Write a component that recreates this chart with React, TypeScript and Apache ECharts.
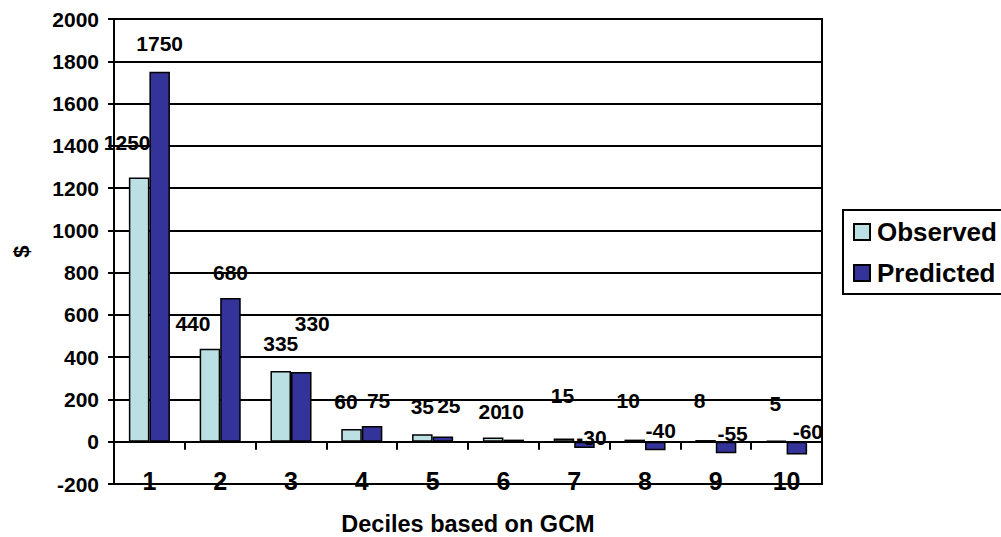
import React, { useEffect, useRef } from "react";
import * as echarts from "echarts";

const categories = ["1", "2", "3", "4", "5", "6", "7", "8", "9", "10"];
const observed = [1250, 440, 335, 60, 35, 20, 15, 10, 8, 5];
const predicted = [1750, 680, 330, 75, 25, 10, -30, -40, -55, -60];

// label nudges (style only, not data)
const obsLabelOffsets = [
  [-12, -20], [-17, -9.5], [0, -11.5], [-5.5, -12.5], [0, -12],
  [-3, -11], [-1.5, -27.5], [-6.5, -23.5], [-6, -24], [-1, -21.5],
];
const predLabelOffsets = [
  [0, -12.5], [0, -10.5], [11, -32.5], [6.5, -9.5], [6, -15],
  [-1.5, -12.5], [7, 11], [5.5, 4.5], [6.5, 7.5], [11, 5.5],
];

const FONT = "Arial, 'Liberation Sans', sans-serif";

export default function App() {
  const ref = useRef<HTMLDivElement>(null);
  useEffect(() => {
    if (!ref.current) return;
    const chart = echarts.init(ref.current, undefined, { renderer: "svg" });
    const labelBase = {
      show: true,
      position: "top",
      distance: 5,
      fontSize: 21,
      fontWeight: "bold",
      color: "#000",
      fontFamily: FONT,
    };
    chart.setOption({
      animation: false,
      backgroundColor: "#fff",
      textStyle: { fontFamily: FONT },
      grid: {
        left: 114,
        top: 19,
        right: 179,
        bottom: 53,
        containLabel: false,
        outerBoundsMode: "none",
        show: true,
        borderColor: "#000",
        borderWidth: 2,
        backgroundColor: "transparent",
      },
      legend: {
        orient: "vertical",
        left: 843,
        top: 210,
        padding: [9, 10, 8, 10],
        itemGap: 15,
        itemWidth: 16,
        itemHeight: 16,
        borderColor: "#000",
        borderWidth: 2,
        icon: "rect",
        textStyle: {
          fontSize: 26,
          fontWeight: "bold",
          color: "#000",
          fontFamily: FONT,
          lineHeight: 26,
          padding: [0, 0, 0, 2],
        },
        data: ["Observed", "Predicted"],
      },
      xAxis: {
        type: "category",
        data: categories,
        name: "Deciles based on GCM",
        nameLocation: "middle",
        nameGap: 28,
        nameTextStyle: {
          fontSize: 23.5,
          fontWeight: "bold",
          color: "#000",
          fontFamily: FONT,
        },
        axisLine: { onZero: true, lineStyle: { color: "#000", width: 2 } },
        axisTick: { show: true, length: 8, lineStyle: { color: "#000", width: 2 } },
        axisLabel: {
          margin: -16,
          fontSize: 25,
          fontWeight: "bold",
          color: "#000",
          fontFamily: FONT,
        },
        splitLine: { show: false },
      },
      yAxis: {
        type: "value",
        min: -200,
        max: 2000,
        interval: 200,
        name: "$",
        nameLocation: "middle",
        nameGap: 82,
        nameTextStyle: {
          fontSize: 22,
          fontWeight: "bold",
          color: "#000",
          fontFamily: FONT,
        },
        axisLine: { show: true, lineStyle: { color: "#000", width: 2 } },
        axisTick: { show: true, length: 6, lineStyle: { color: "#000", width: 2 } },
        axisLabel: {
          margin: 15,
          fontSize: 21,
          fontWeight: "bold",
          color: "#000",
          fontFamily: FONT,
          formatter: (v: number) => String(v),
        },
        splitLine: { show: true, lineStyle: { color: "#000", width: 2 } },
      },
      series: [
        {
          name: "Observed",
          type: "bar",
          barWidth: "29%",
          barGap: "0%",
          itemStyle: { color: "#BBE0E3", borderColor: "#000", borderWidth: 1.5 },
          label: labelBase,
          data: observed.map((v, i) => ({
            value: v,
            label: { offset: obsLabelOffsets[i] },
          })),
        },
        {
          name: "Predicted",
          type: "bar",
          barWidth: "29%",
          barGap: "0%",
          itemStyle: { color: "#333399", borderColor: "#000", borderWidth: 1.5 },
          label: labelBase,
          data: predicted.map((v, i) => ({
            value: v,
            label: { offset: predLabelOffsets[i] },
          })),
        },
      ],
    });
    return () => chart.dispose();
  }, []);
  return (
    <div
      ref={ref}
      style={{ position: "fixed", left: 0, top: 0, width: 1001, height: 537 }}
    />
  );
}
